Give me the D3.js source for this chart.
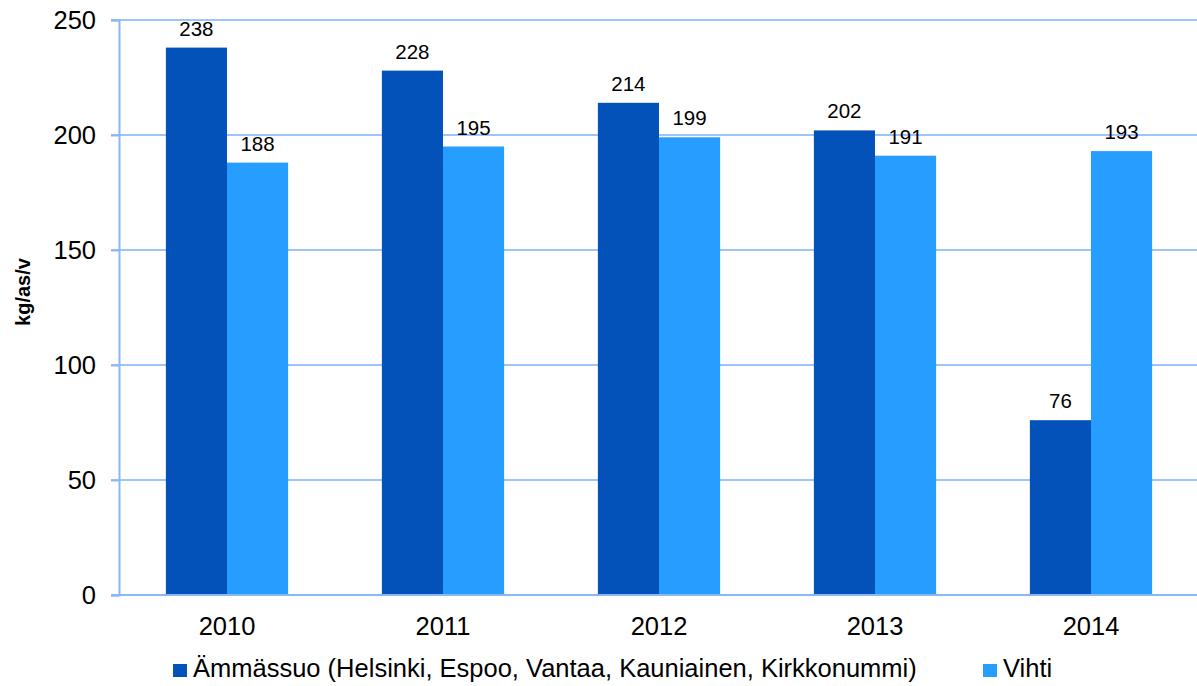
<!DOCTYPE html>
<html><head><meta charset="utf-8">
<script src="https://cdn.jsdelivr.net/npm/d3@7"></script>
<style>body{margin:0;background:#fff}svg{display:block;font-family:"Liberation Sans",Arial,sans-serif}</style>
</head><body><svg id="c" width="1197" height="686"></svg>
<script>
const categories = ["2010","2011","2012","2013","2014"];
const seriesNames = ["Ämmässuo (Helsinki, Espoo, Vantaa, Kauniainen, Kirkkonummi)","Vihti"];
const ammassuo = [238,228,214,202,76];
const vihti = [188,195,199,191,193];
const yTicks = [0,50,100,150,200,250];
const colors = ["#0352BA","#269EFF"];

const svg = d3.select("#c");
const L=119, R=1199, T=20, B=595;
const FS=25.5;
const x = d3.scaleBand().domain(categories).range([L,R]).paddingInner(0.434).paddingOuter(0.217);
const x1 = d3.scaleBand().domain([0,1]).range([0,x.bandwidth()]);
const y = d3.scaleLinear().domain([0,250]).range([B,T]);

// gridlines
svg.append("g").selectAll("line").data(yTicks.filter(d=>d>0)).join("line")
  .attr("x1",L-8).attr("x2",R).attr("y1",d=>y(d)).attr("y2",d=>y(d))
  .attr("stroke","#9EC5FA").attr("stroke-width",2);

const data = categories.map((c,i)=>({c,vals:[ammassuo[i],vihti[i]]}));
const g = svg.append("g");
data.forEach(d=>{
  d.vals.forEach((v,k)=>{
    g.append("rect").attr("x",x(d.c)+x1(k)).attr("y",y(v)).attr("width",x1.bandwidth()).attr("height",y(0)-y(v)).attr("fill",colors[k]);
    g.append("text").attr("x",x(d.c)+x1(k)+x1.bandwidth()/2).attr("y",y(v)-12).attr("text-anchor","middle")
      .attr("font-size",20.5).attr("fill","#000").text(v);
  });
});

// axes
const ya = d3.axisLeft(y).tickValues(yTicks).tickSize(8).tickPadding(15);
const yg = svg.append("g").attr("transform",`translate(${L},0)`).call(ya);
yg.select(".domain").attr("stroke","#8AB8F5").attr("stroke-width",2);
yg.selectAll(".tick line").attr("stroke","#8AB8F5").attr("stroke-width",2);
yg.selectAll(".tick text").attr("font-size",FS).attr("fill","#000").attr("font-family","Liberation Sans, Arial, sans-serif");

const xa = d3.axisBottom(x).tickSize(0).tickPadding(0);
const xg = svg.append("g").attr("transform",`translate(0,${B})`).call(xa);
xg.select(".domain").attr("stroke","#8AB8F5").attr("stroke-width",2).attr("d",`M${L-8},0H${R}`);
xg.selectAll(".tick text").attr("font-size",FS).attr("fill","#000").attr("dy",null).attr("y",40).attr("font-family","Liberation Sans, Arial, sans-serif");

svg.append("text").attr("transform","translate(30,292) rotate(-90)").attr("text-anchor","middle")
  .attr("font-size",20).attr("font-weight","bold").text("kg/as/v");

// legend
const legX=[173,983];
seriesNames.forEach((n,k)=>{
  svg.append("rect").attr("x",legX[k]).attr("y",664).attr("width",14).attr("height",13).attr("fill",colors[k]);
  svg.append("text").attr("x",legX[k]+20).attr("y",677).attr("font-size",FS).text(n);
});
</script></body></html>
